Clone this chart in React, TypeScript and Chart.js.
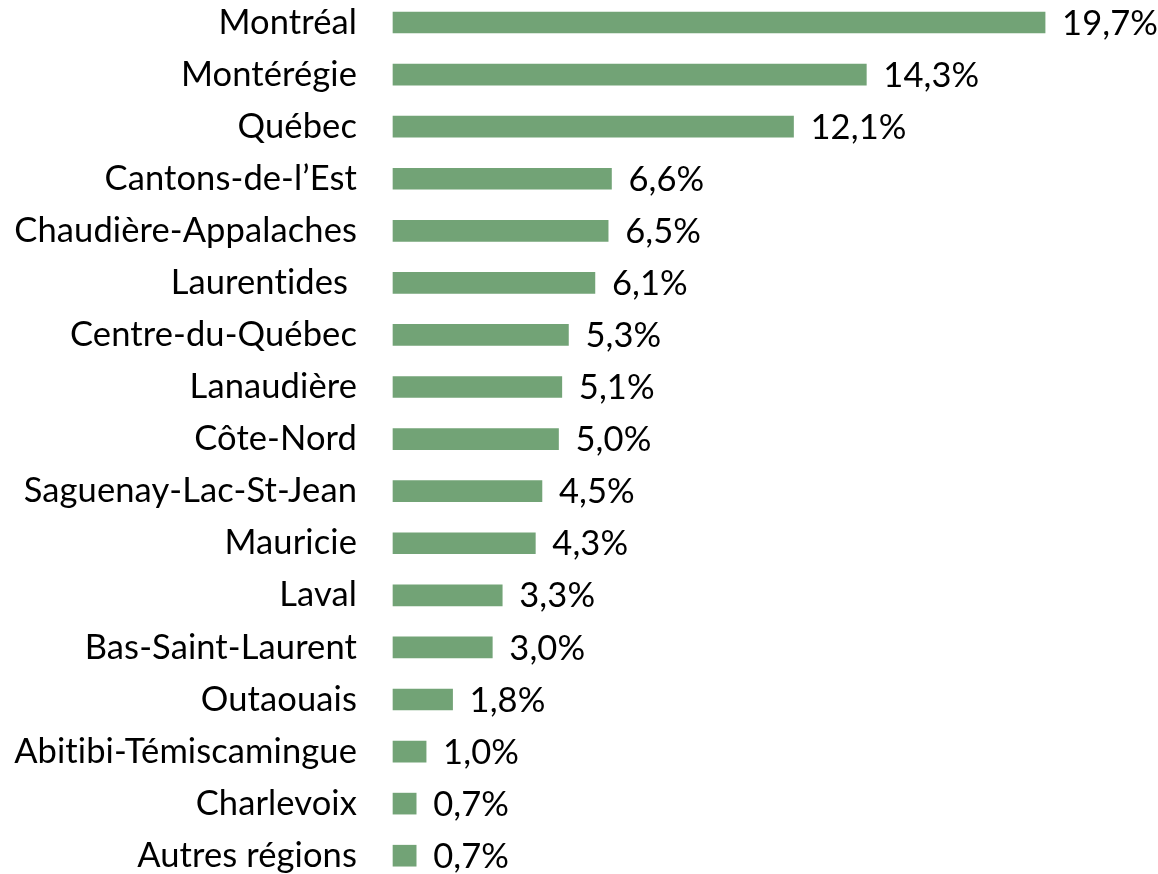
import React, { useEffect, useRef } from "react";
import { Chart, registerables } from "chart.js";

Chart.register(...registerables);

const regions = [
  "Montréal",
  "Montérégie",
  "Québec",
  "Cantons-de-l’Est",
  "Chaudière-Appalaches",
  "Laurentides ",
  "Centre-du-Québec",
  "Lanaudière",
  "Côte-Nord",
  "Saguenay-Lac-St-Jean",
  "Mauricie",
  "Laval",
  "Bas-Saint-Laurent",
  "Outaouais",
  "Abitibi-Témiscamingue",
  "Charlevoix",
  "Autres régions",
];

const shares = [19.7, 14.3, 12.1, 6.6, 6.5, 6.1, 5.3, 5.1, 5.0, 4.5, 4.3, 3.3, 3.0, 1.8, 1.0, 0.7, 0.7];

const FONT_FAMILY = "Lato, 'Open Sans', sans-serif";
const FONT_SIZE = 34.5;
const BAR_COLOR = "#72A376";

const noLigatures = {
  id: "noLigatures",
  beforeDraw(chart: any) {
    try {
      (chart.ctx as any).letterSpacing = "0.1px";
    } catch (e) {}
  },
};

const valueLabels = {
  id: "valueLabels",
  afterDatasetsDraw(chart: any) {
    const ctx = chart.ctx;
    const meta = chart.getDatasetMeta(0);
    ctx.save();
    ctx.font = `${FONT_SIZE}px ${FONT_FAMILY}`;
    ctx.fillStyle = "#000";
    ctx.textAlign = "left";
    ctx.textBaseline = "middle";
    meta.data.forEach((bar: any, i: number) => {
      const txt = shares[i].toFixed(1).replace(".", ",") + "%";
      ctx.fillText(txt, bar.x + 17, bar.y + 1);
    });
    ctx.restore();
  },
};

export default function App() {
  const ref = useRef<HTMLCanvasElement | null>(null);
  useEffect(() => {
    if (!ref.current) return;
    const chart = new Chart(ref.current, {
      type: "bar",
      data: {
        labels: regions,
        datasets: [
          {
            data: shares,
            backgroundColor: BAR_COLOR,
            borderWidth: 0,
            barThickness: 21,
            clip: false as any,
          },
        ],
      },
      options: {
        indexAxis: "y",
        animation: false,
        responsive: true,
        maintainAspectRatio: false,
        layout: { padding: { top: 22.5, bottom: 18.3, left: 0, right: 3.7 } },
        plugins: {
          legend: { display: false },
          tooltip: { enabled: false },
        },
        scales: {
          x: {
            display: false,
            min: 0,
            max: 23,
          },
          y: {
            offset: false,
            grid: { display: false, drawTicks: false },
            border: { display: false },
            ticks: {
              padding: 36,
              color: "#000",
              font: { family: FONT_FAMILY, size: FONT_SIZE },
              autoSkip: false,
            },
            afterFit(scale: any) {
              scale.width = 393;
              scale.paddingTop = 0;
              scale.paddingBottom = 0;
            },
          },
        },
      },
      plugins: [noLigatures, valueLabels],
    });
    return () => chart.destroy();
  }, []);
  return (
    <div style={{ position: "fixed", left: 0, top: 0, width: 1158, height: 874, background: "#fff" }}>
      <canvas ref={ref} />
    </div>
  );
}
